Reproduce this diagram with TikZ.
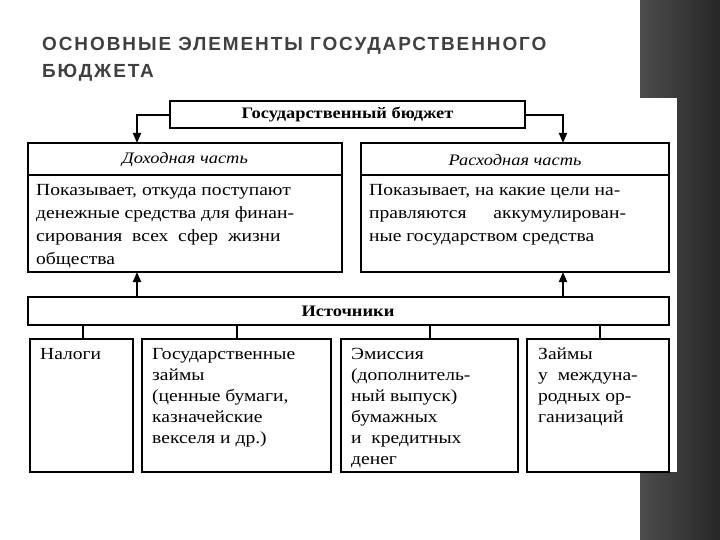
\documentclass[tikz,border=0pt]{standalone}
\usepackage{fontspec}
\setmainfont[FakeStretch=1.15]{Liberation Serif}
\newfontfamily\titlefont[LetterSpace=10]{Liberation Sans}
\usetikzlibrary{arrows.meta}
\begin{document}
\begin{tikzpicture}[x=1pt,y=-1pt,
  bx/.style={draw,line width=1.8pt,inner sep=0pt},
  tx/.style={font=\fontsize{17}{21}\selectfont,align=left,anchor=north west,inner sep=0pt},
  ln/.style={line width=1.8pt},
  ar/.style={line width=1.8pt,-{Triangle[length=10pt,width=8pt]}}]
\useasboundingbox (0,0) rectangle (720,540);
\fill[white] (0,0) rectangle (720,540);
\shade[left color=black!70,right color=black!85] (640,0) rectangle (720,540);
\fill[white] (22,98) rectangle (677,472);
\node[anchor=west,inner sep=0pt,text=black!75,font=\titlefont\bfseries\fontsize{19}{22}\selectfont] (t1) at (42,46) {ОСНОВНЫЕ ЭЛЕМЕНТЫ ГОСУДАРСТВЕННОГО};
\node[anchor=west,inner sep=0pt,text=black!75,font=\titlefont\bfseries\fontsize{19}{22}\selectfont] (t2) at (42,73) {БЮДЖЕТА};
% top
\draw[bx] (170,101) rectangle (525,128);
\node[font=\fontsize{16}{20}\selectfont\bfseries] (gb) at (347.5,115) {Государственный бюджет};
\coordinate (gl) at (170,115); \coordinate (gr) at (525,115);
\coordinate (dt) at (137,143); \coordinate (rt) at (563,143);
\draw[ar] (gl) -| (dt);
\draw[ar] (gr) -| (rt);
% left
\draw[bx] (28,143) rectangle (342,272); \draw[ln] (28,175) -- (342,175);
\node[font=\fontsize{16}{20}\selectfont\itshape] (dh) at (185,160) {Доходная часть};
\node[tx,font=\fontsize{17}{23}\selectfont] (dtx) at (36,184) {Показывает, откуда поступают\\денежные средства для финан-\\сирования\ \ всех\ \ сфер\ \ жизни\\общества};
% right
\draw[bx] (361,143) rectangle (669,272); \draw[ln] (361,175) -- (669,175);
\node[font=\fontsize{16}{20}\selectfont\itshape] (rh) at (515,160) {Расходная часть};
\node[tx,font=\fontsize{17}{23}\selectfont] (rtx) at (369,184) {Показывает, на какие цели на-\\правляются\quad\ \ аккумулирован-\\ные государством средства};
% sources
\draw[bx] (28,297) rectangle (669,325);
\node[font=\fontsize{16}{20}\selectfont\bfseries] (src) at (348,311) {Источники};
\coordinate (sl) at (137,297); \coordinate (sr) at (563,297);
\coordinate (dl) at (137,272); \coordinate (rl) at (563,272);
\draw[ar] (sl) -- (dl);
\draw[ar] (sr) -- (rl);
% bottom boxes
\draw[bx] (30,339) rectangle (133,472);
\draw[bx] (142,339) rectangle (331,472);
\draw[bx] (341,339) rectangle (518,472);
\draw[bx] (527,339) rectangle (669,472);
\foreach \x in {83,237,430,600} \draw[ln] (\x,325) -- (\x,339);
\node[tx] (b1) at (40,348) {Налоги};
\node[tx] (b2) at (152,348) {Государственные\\займы\\(ценные бумаги,\\казначейские\\векселя и др.)};
\node[tx] (b3) at (351,348) {Эмиссия\\(дополнитель-\\ный выпуск)\\бумажных\\и\ \ кредитных\\денег};
\node[tx] (b4) at (538,348) {Займы\\у\ \ междуна-\\родных ор-\\ганизаций};
\end{tikzpicture}
\end{document}
